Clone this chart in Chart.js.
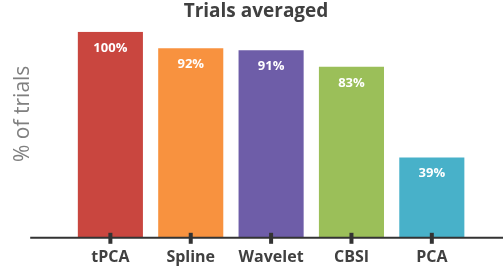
<!DOCTYPE html>
<html>
<head>
<meta charset="utf-8">
<script src="https://cdn.jsdelivr.net/npm/chart.js@4"></script>
<style>
  html, body { margin: 0; padding: 0; background: #fff; overflow: hidden; }
  canvas { display: block; }
</style>
</head>
<body>
<canvas id="chart" width="503" height="273"></canvas>
<script>
const methods = ['tPCA', 'Spline', 'Wavelet', 'CBSI', 'PCA'];
const trialsAveraged = [100, 92, 91, 83, 39];
const barColors = ['#C9463F', '#F8923F', '#6E5DA8', '#9BBF59', '#48B1C9'];

const fontfam = '"Open Sans", "Noto Sans", sans-serif';

// value labels inside the bars + the long axis line with tick marks
const barDecor = {
    id: 'barDecor',
    afterDatasetsDraw(chart) {
        const ctx = chart.ctx;
        const meta = chart.getDatasetMeta(0);
        const area = chart.chartArea;
        const xs = chart.scales.x;

        ctx.save();
        ctx.fillStyle = '#ffffff';
        ctx.font = `bold 13px ${fontfam}`;
        ctx.textAlign = 'center';
        ctx.textBaseline = 'middle';
        meta.data.forEach((bar, i) => {
            ctx.fillText(trialsAveraged[i] + '%', bar.x, bar.y + 16);
        });

        ctx.strokeStyle = '#333333';
        ctx.lineWidth = 2;
        ctx.beginPath();
        ctx.moveTo(area.left - 40, area.bottom);
        ctx.lineTo(chart.width, area.bottom);
        ctx.stroke();

        ctx.lineWidth = 4;
        methods.forEach((m, i) => {
            const x = xs.getPixelForValue(i);
            ctx.beginPath();
            ctx.moveTo(x, area.bottom - 5);
            ctx.lineTo(x, area.bottom + 6);
            ctx.stroke();
        });
        ctx.restore();
    }
};

new Chart(document.getElementById('chart'), {
    type: 'bar',
    data: {
        labels: methods,
        datasets: [{
            data: trialsAveraged,
            backgroundColor: barColors,
            borderWidth: 0,
            barPercentage: 0.81,
            categoryPercentage: 1
        }]
    },
    options: {
        responsive: false,
        animation: false,
        layout: { padding: { left: 40, right: 31, top: 0, bottom: -4 } },
        scales: {
            x: {
                grid: { display: false, drawTicks: false },
                border: { display: false },
                ticks: {
                    padding: 10,
                    color: '#404040',
                    font: { family: fontfam, size: 16, weight: 'bold' }
                }
            },
            y: {
                min: 0,
                max: 100,
                grid: { display: false, drawTicks: false },
                border: { display: false },
                ticks: { display: false },
                title: {
                    display: true,
                    text: '\u2002\u2002\u2002\u2002% of trials',
                    color: '#7f7f7f',
                    padding: { top: -30, bottom: 35 },
                    font: { family: fontfam, size: 21 }
                }
            }
        },
        plugins: {
            legend: { display: false },
            tooltip: { enabled: false },
            title: {
                display: true,
                text: 'Trials averaged',
                color: '#404040',
                padding: { top: 0, bottom: 9 },
                font: { family: fontfam, size: 19, weight: 'bold' }
            }
        }
    },
    plugins: [barDecor]
});
</script>
</body>
</html>
